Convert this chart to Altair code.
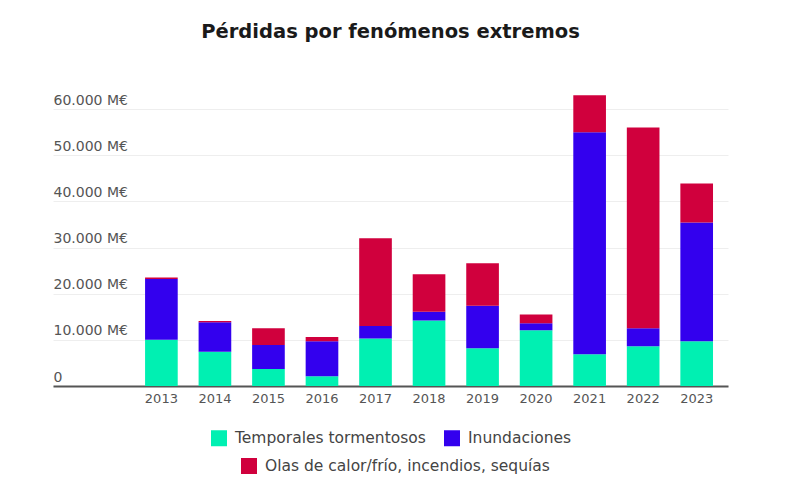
import altair as alt
import pandas as pd

years = ["2013", "2014", "2015", "2016", "2017", "2018", "2019", "2020", "2021", "2022", "2023"]
series = ["Temporales tormentosos", "Inundaciones", "Olas de calor/frío, incendios, sequías"]
temporales = [10000, 7400, 3700, 2100, 10300, 14200, 8200, 12100, 6900, 8600, 9700]
inundaciones = [13200, 6400, 5200, 7600, 2700, 1900, 9200, 1500, 48100, 3900, 25700]
olas = [300, 300, 3600, 900, 19000, 8100, 9200, 1900, 8000, 43500, 8500]
colors = ["#00F0B2", "#3300EE", "#D0003D"]
y_ticks = [0, 10000, 20000, 30000, 40000, 50000, 60000]

rows = []
for i, y in enumerate(years):
    for k, (name, vals) in enumerate(zip(series, [temporales, inundaciones, olas])):
        rows.append({"year": y, "serie": name, "valor": vals[i], "orden": k})
df = pd.DataFrame(rows)

FONT = "DejaVu Sans"

x_enc = alt.X(
    "year:N",
    title=None,
    sort=years,
    scale=alt.Scale(paddingInner=0.39, paddingOuter=1, align=0.86),
    axis=alt.Axis(labelAngle=0, ticks=False, domain=True, domainColor="#555555",
                  domainWidth=2, labelFont=FONT, labelFontSize=13, labelColor="#555555",
                  labelPadding=6, grid=False),
)

bars = alt.Chart(df).mark_bar().encode(
    x=x_enc,
    y=alt.Y(
        "sum(valor):Q",
        title=None,
        stack="zero",
        scale=alt.Scale(domain=[0, 65000], nice=False),
        axis=alt.Axis(values=y_ticks, labelExpr="datum.value == 0 ? '0' : replace(format(datum.value, ',d'), ',', '.') + ' M€'",
                      ticks=False, tickSize=0, domain=False, labelAlign="left",
                      labelBaseline="alphabetic", labelOffset=-5, labelPadding=0,
                      labelFont=FONT, labelFontSize=14, labelColor="#555555",
                      grid=True, gridColor="#EEEEEE", gridWidth=1),
    ),
    color=alt.Color(
        "serie:N",
        scale=alt.Scale(domain=series, range=colors),
        legend=alt.Legend(values=series[:2], title=None, orient="none", direction="horizontal",
                          legendX=158, legendY=344, symbolType="square", symbolSize=256,
                          symbolStrokeWidth=0, labelFont=FONT, labelFontSize=15.5,
                          labelColor="#444444", columnPadding=18, labelOffset=8,
                          labelLimit=400),
    ),
    order=alt.Order("orden:Q", sort="ascending"),
)

extra_df = pd.DataFrame({"serie": [series[2]], "year": [years[0]], "valor": [0]})
extra = alt.Chart(extra_df).mark_bar(opacity=0).encode(
    x=alt.X("year:N", sort=years),
    y=alt.Y("valor:Q"),
    fill=alt.Fill(
        "serie:N",
        scale=alt.Scale(domain=[series[2]], range=[colors[2]]),
        legend=alt.Legend(title=None, orient="none", direction="horizontal",
                          legendX=188, legendY=372, symbolType="square", symbolSize=256,
                          symbolOpacity=1, symbolStrokeWidth=0, labelFont=FONT,
                          labelFontSize=15.5, labelColor="#444444", labelOffset=8,
                          labelLimit=400),
    ),
)

chart = alt.layer(bars, extra).resolve_scale(color="independent").properties(
    width=675,
    height=300,
    padding={"left": 45, "top": 13, "right": 10, "bottom": 5},
    title=alt.TitleParams(
        "Pérdidas por fenómenos extremos",
        font=FONT, fontSize=19.5, fontWeight="bold", color="#1a1a1a",
        anchor="middle", offset=44,
    ),
).configure_view(stroke=None)

chart.save("out.html", embed_options={"renderer": "svg", "actions": False})
